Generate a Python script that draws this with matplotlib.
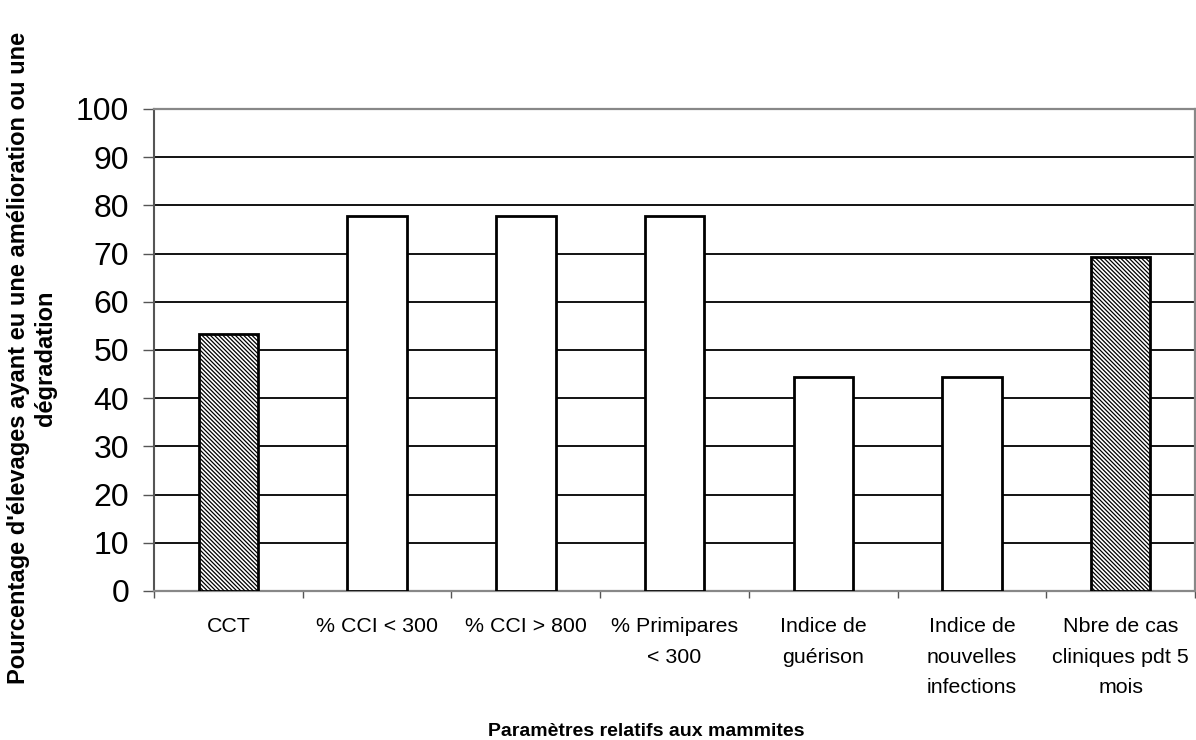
import matplotlib
matplotlib.use('Agg')
import matplotlib.pyplot as plt
import numpy as np

plt.rcParams['font.family'] = ['Liberation Sans', 'DejaVu Sans']
plt.rcParams['hatch.color'] = '#444444'
plt.rcParams['hatch.linewidth'] = 0.9

categories = ['CCT', '% CCI < 300', '% CCI > 800', '% Primipares\n< 300',
              'Indice de\nguérison', 'Indice de\nnouvelles\ninfections',
              'Nbre de cas\ncliniques pdt 5\nmois']
values = [53.3, 77.8, 77.8, 77.8, 44.4, 44.4, 69.2]
hatched = [True, False, False, False, False, False, True]
yticks = np.arange(0, 101, 10)

fig = plt.figure(figsize=(11.96, 7.4), dpi=100)
ax = fig.add_axes([0.1288, 0.2014, 0.8704, 0.6514])

x = np.arange(len(categories))
for xi, v, h in zip(x, values, hatched):
    ax.bar(xi, v, width=0.40, facecolor='white', edgecolor='black',
           linewidth=2, hatch='\\' * 8 if h else None, zorder=3)

ax.set_xlim(-0.5, len(categories) - 0.5)
ax.set_ylim(0, 100)
ax.set_yticks(yticks)
ax.set_axisbelow(True)
ax.yaxis.grid(True, color='black', linewidth=1.3)
ax.tick_params(axis='y', labelsize=23, length=8, width=1, color='#555555',
               pad=10)

# category boundaries carry the tick marks, labels sit between them
ax.set_xticks(np.arange(-0.5, len(categories)), minor=False)
ax.set_xticklabels([])
ax.set_xticks(x, minor=True)
ax.set_xticklabels(categories, minor=True, fontsize=15.4, linespacing=1.77)
ax.tick_params(axis='x', which='major', length=5, width=1, color='#555555')
ax.tick_params(axis='x', which='minor', length=0, pad=19)

for s in ['top', 'right', 'bottom']:
    ax.spines[s].set_color('#888888')
    ax.spines[s].set_linewidth(1.6)
ax.spines['left'].set_color('#555555')
ax.spines['left'].set_linewidth(1.5)

fig.text(646 / 1196, 1 - 731 / 740, 'Paramètres relatifs aux mammites',
         ha='center', va='center', fontsize=14, fontweight='bold')
fig.text(32 / 1196, 1 - 358 / 740,
         "Pourcentage d'élevages ayant eu une amélioration ou une\ndégradation",
         rotation=90, ha='center', va='center', fontsize=17,
         fontweight='bold', multialignment='center')

fig.savefig('out.png', dpi=100)
